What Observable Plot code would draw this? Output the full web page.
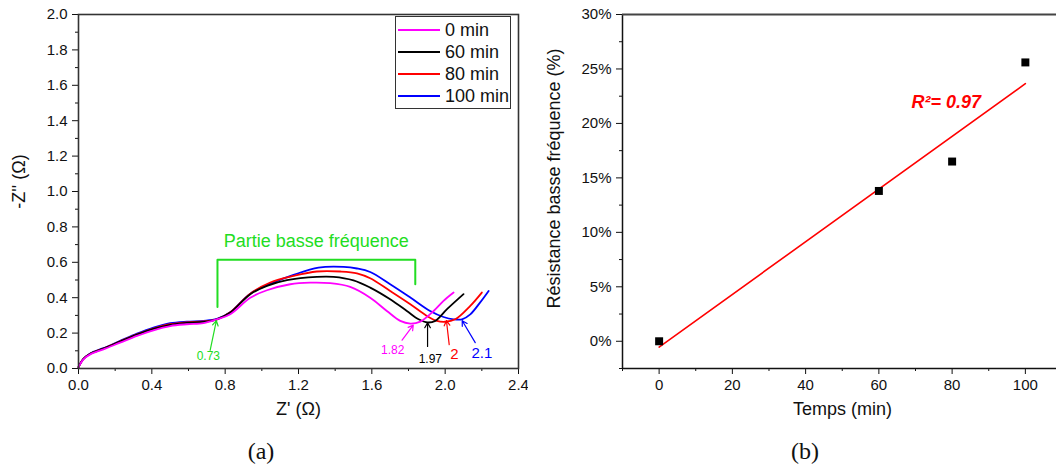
<!DOCTYPE html>
<html>
<head>
<meta charset="utf-8">
<script src="https://cdn.jsdelivr.net/npm/d3@7"></script>
<script src="https://cdn.jsdelivr.net/npm/@observablehq/plot@0.6"></script>
<style>
  html, body { margin: 0; padding: 0; background: #fff; }
  #wrap { position: relative; width: 1056px; height: 470px; display: flex; font-family: "Liberation Sans", Arial, sans-serif; }
  .panel { position: relative; width: 528px; height: 470px; }
  .cap { position: absolute; top: 438px; font-family: "Liberation Serif", "DejaVu Serif", serif; font-size: 24px; color: #111; transform: translateX(-50%); }
  .legend { position: absolute; left: 395px; top: 16px; width: 114px; height: 91px; border: 1.5px solid #333; background: #fff; }
  .legend .row { position: absolute; left: 0; height: 22px; display: flex; align-items: center; font-size: 18px; color: #111; }
  .legend .sw { width: 42px; height: 0; border-top: 2px solid; margin-left: 2px; margin-right: 5px; }
</style>
</head>
<body>
<div id="wrap">
  <div class="panel" id="left"></div>
  <div class="panel" id="right"></div>
</div>
<script>
// ---------- Panel (a): Nyquist curves ----------
const seriesNames = ["0 min", "60 min", "80 min", "100 min"];
const seriesColors = ["#ff00ff", "#000000", "#ff0000", "#0000ff"];

const zReal0 = [0, 0.027, 0.064, 0.136, 0.227, 0.319, 0.409, 0.5, 0.591, 0.682, 0.755, 0.828, 0.937, 1.028, 1.155, 1.264, 1.373, 1.482, 1.591, 1.682, 1.755, 1.81, 1.864, 1.937, 1.991, 2.046];
const zImag0 = [0.008, 0.052, 0.080, 0.108, 0.146, 0.184, 0.216, 0.24, 0.25, 0.256, 0.278, 0.307, 0.4, 0.442, 0.476, 0.485, 0.482, 0.461, 0.4, 0.325, 0.269, 0.254, 0.265, 0.325, 0.382, 0.429];

const zReal60 = [0, 0.027, 0.064, 0.136, 0.227, 0.319, 0.409, 0.5, 0.591, 0.682, 0.755, 0.828, 0.937, 1.028, 1.137, 1.3, 1.391, 1.5, 1.591, 1.7, 1.791, 1.855, 1.904, 1.946, 2.01, 2.1];
const zImag60 = [0.008, 0.054, 0.083, 0.112, 0.152, 0.192, 0.224, 0.247, 0.258, 0.263, 0.278, 0.316, 0.42, 0.467, 0.499, 0.518, 0.518, 0.498, 0.457, 0.391, 0.325, 0.278, 0.26, 0.269, 0.335, 0.42];

const zReal80 = [0, 0.027, 0.064, 0.136, 0.227, 0.319, 0.409, 0.5, 0.591, 0.682, 0.755, 0.828, 0.937, 1.046, 1.173, 1.3, 1.428, 1.519, 1.591, 1.7, 1.81, 1.9, 1.955, 2.0, 2.055, 2.137, 2.2];
const zImag80 = [0.008, 0.054, 0.083, 0.113, 0.153, 0.193, 0.226, 0.25, 0.261, 0.266, 0.278, 0.318, 0.423, 0.486, 0.523, 0.548, 0.548, 0.538, 0.51, 0.438, 0.363, 0.297, 0.269, 0.264, 0.278, 0.354, 0.429];

const zReal100 = [0, 0.027, 0.064, 0.136, 0.227, 0.319, 0.409, 0.5, 0.591, 0.682, 0.755, 0.828, 0.937, 1.064, 1.173, 1.309, 1.446, 1.519, 1.591, 1.7, 1.81, 1.918, 1.991, 2.046, 2.092, 2.137, 2.19, 2.237];
const zImag100 = [0.008, 0.055, 0.085, 0.115, 0.156, 0.197, 0.231, 0.256, 0.265, 0.269, 0.28, 0.318, 0.423, 0.486, 0.529, 0.57, 0.574, 0.565, 0.545, 0.476, 0.401, 0.325, 0.291, 0.278, 0.278, 0.306, 0.372, 0.438];

const zRealAll = [zReal0, zReal60, zReal80, zReal100];
const zImagAll = [zImag0, zImag60, zImag80, zImag100];

// Bracket "Partie basse fréquence"
const bracketX = [0.758, 0.758, 1.837, 1.837];
const bracketY = [0.348, 0.614, 0.614, 0.476];
const bracketLabel = "Partie basse fréquence";
const bracketLabelX = 1.297, bracketLabelY = 0.72;

// Arrows and value labels
const arrowX1 = [0.718, 1.765, 1.904, 2.022, 2.164];
const arrowY1 = [0.103, 0.16, 0.125, 0.135, 0.146];
const arrowX2 = [0.752, 1.826, 1.904, 2.007, 2.093];
const arrowY2 = [0.27, 0.245, 0.258, 0.27, 0.27];
const arrowColors = ["#22dd22", "#ff00ff", "#000000", "#ff0000", "#0000ff"];
const labelTexts = ["0.73", "1.82", "1.97", "2", "2.1"];
const labelX = [0.708, 1.714, 1.919, 2.05, 2.2];
const labelY = [0.071, 0.103, 0.052, 0.08, 0.088];
const labelSizes = [12, 12, 12, 15, 15];

const xTicksA = [0, 0.4, 0.8, 1.2, 1.6, 2.0, 2.4];
const xMinorA = [0.2, 0.6, 1.0, 1.4, 1.8, 2.2];
const yTicksA = [0, 0.2, 0.4, 0.6, 0.8, 1.0, 1.2, 1.4, 1.6, 1.8, 2.0];
const yMinorA = [0.1, 0.3, 0.5, 0.7, 0.9, 1.1, 1.3, 1.5, 1.7, 1.9];

const green = "#22dd22";

const curveRows = [];
[3, 2, 1, 0].forEach(i => {
  zRealAll[i].forEach((x, j) => curveRows.push({series: seriesNames[i], x, y: zImagAll[i][j]}));
});
const bracketRows = bracketX.map((x, i) => ({x, y: bracketY[i]}));
const arrowRows = arrowX1.map((x1, i) => ({x1, y1: arrowY1[i], x2: arrowX2[i], y2: arrowY2[i], c: arrowColors[i], t: labelTexts[i], lx: labelX[i], ly: labelY[i], s: labelSizes[i]}));

const fmt1 = d3.format(".1f");
const font = "'Liberation Sans', Arial, sans-serif";

const plotA = Plot.plot({
  width: 528, height: 430,
  marginLeft: 78, marginRight: 10, marginTop: 14, marginBottom: 62,
  style: {fontFamily: font, fontSize: "15px", color: "#111", background: "white", overflow: "visible"},
  x: {domain: [0, 2.4]},
  y: {domain: [0, 2]},
  color: {domain: seriesNames, range: seriesColors},
  marks: [
    Plot.axisX({ticks: xTicksA, tickFormat: fmt1, tickSize: 6, tickPadding: 5, fontSize: 15, label: null, stroke: "#111"}),
    Plot.axisX({ticks: xMinorA, tickFormat: () => "", tickSize: 3, label: null, stroke: "#111"}),
    Plot.axisY({ticks: yTicksA, tickFormat: fmt1, tickSize: 6, tickPadding: 5, fontSize: 15, label: null, stroke: "#111"}),
    Plot.axisY({ticks: yMinorA, tickFormat: () => "", tickSize: 3, label: null, stroke: "#111"}),
    Plot.line(curveRows, {x: "x", y: "y", z: "series", stroke: "series", strokeWidth: 1.8, curve: "catmull-rom"}),
    Plot.line(bracketRows, {x: "x", y: "y", stroke: green, strokeWidth: 2}),
    Plot.text([bracketLabel], {x: bracketLabelX, y: bracketLabelY, fill: green, fontSize: 18}),
    Plot.arrow(arrowRows, {x1: "x1", y1: "y1", x2: "x2", y2: "y2", stroke: "c", strokeWidth: 1.2, headLength: 7}),
    Plot.text(arrowRows, {x: "lx", y: "ly", text: "t", fill: "c", fontSize: "s"}),
    Plot.frame({stroke: "#333", strokeWidth: 1.6}),
    Plot.text(["Z' (Ω)"], {frameAnchor: "bottom", dy: 46, fontSize: 18, fill: "#111"}),
    Plot.text(["-Z'' (Ω)"], {frameAnchor: "left", textAnchor: "middle", lineAnchor: "middle", rotate: -90, dx: -59, dy: -10, fontSize: 18, fill: "#111"})
  ]
});
const left = document.getElementById("left");
left.appendChild(plotA);

// legend
const leg = document.createElement("div");
leg.className = "legend";
seriesNames.forEach((name, i) => {
  const row = document.createElement("div");
  row.className = "row";
  row.style.top = (2 + i * 22) + "px";
  const sw = document.createElement("span");
  sw.className = "sw";
  sw.style.borderTopColor = seriesColors[i];
  const tx = document.createElement("span");
  tx.textContent = name;
  row.appendChild(sw); row.appendChild(tx);
  leg.appendChild(row);
});
left.appendChild(leg);
const capA = document.createElement("div");
capA.className = "cap"; capA.style.left = "261px"; capA.textContent = "(a)";
left.appendChild(capA);

// ---------- Panel (b): low-frequency resistance vs time ----------
const timeMin = [0, 60, 80, 100];
const resistPct = [0, 13.8, 16.5, 25.6];
const r2Label = "R²= 0.97";
const r2X = 68.9, r2Y = 21.9;

const xTicksB = [0, 20, 40, 60, 80, 100];
const xMinorB = [-10, 10, 30, 50, 70, 90];
const yTicksB = [0, 5, 10, 15, 20, 25, 30];
const yMinorB = [-2.5, 2.5, 7.5, 12.5, 17.5, 22.5, 27.5];

const ptRows = timeMin.map((t, i) => ({t, r: resistPct[i]}));

const plotB = Plot.plot({
  width: 528, height: 430,
  marginLeft: 94, marginRight: 0, marginTop: 14, marginBottom: 62,
  style: {fontFamily: font, fontSize: "15px", color: "#111", background: "white", overflow: "visible"},
  x: {domain: [-10, 108.5]},
  y: {domain: [-2.5, 30]},
  marks: [
    Plot.axisX({ticks: xTicksB, tickSize: 6, tickPadding: 5, fontSize: 15, label: null, stroke: "#111"}),
    Plot.axisX({ticks: xMinorB, tickFormat: () => "", tickSize: 3, label: null, stroke: "#111"}),
    Plot.axisY({ticks: yTicksB, tickFormat: d => d + "%", tickSize: 6, tickPadding: 5, fontSize: 15, label: null, stroke: "#111"}),
    Plot.axisY({ticks: yMinorB, tickFormat: () => "", tickSize: 3, label: null, stroke: "#111"}),
    Plot.ruleX([-10], {stroke: "#111", strokeWidth: 1.5}),
    Plot.ruleY([-2.5], {stroke: "#111", strokeWidth: 1.5}),
    Plot.ruleY([30], {stroke: "#444", strokeWidth: 2}),
    Plot.linearRegressionY(ptRows, {x: "t", y: "r", stroke: "#ff0000", strokeWidth: 1.6, ci: 0}),
    Plot.dot(ptRows, {x: "t", y: "r", symbol: "square", r: 4.5, fill: "#000", stroke: null}),
    Plot.text([r2Label], {x: r2X, y: r2Y, textAnchor: "start", fill: "#ff0000", fontSize: 18, fontWeight: "bold", fontStyle: "italic"}),
    Plot.text(["Temps (min)"], {frameAnchor: "bottom", dy: 46, dx: 3, fontSize: 18, fill: "#111"}),
    Plot.text(["Résistance basse fréquence (%)"], {frameAnchor: "left", textAnchor: "middle", lineAnchor: "middle", rotate: -90, dx: -68, dy: -13, fontSize: 18, fill: "#111"})
  ]
});
const right = document.getElementById("right");
right.appendChild(plotB);
const capB = document.createElement("div");
capB.className = "cap"; capB.style.left = "277px"; capB.textContent = "(b)";
right.appendChild(capB);
</script>
</body>
</html>
